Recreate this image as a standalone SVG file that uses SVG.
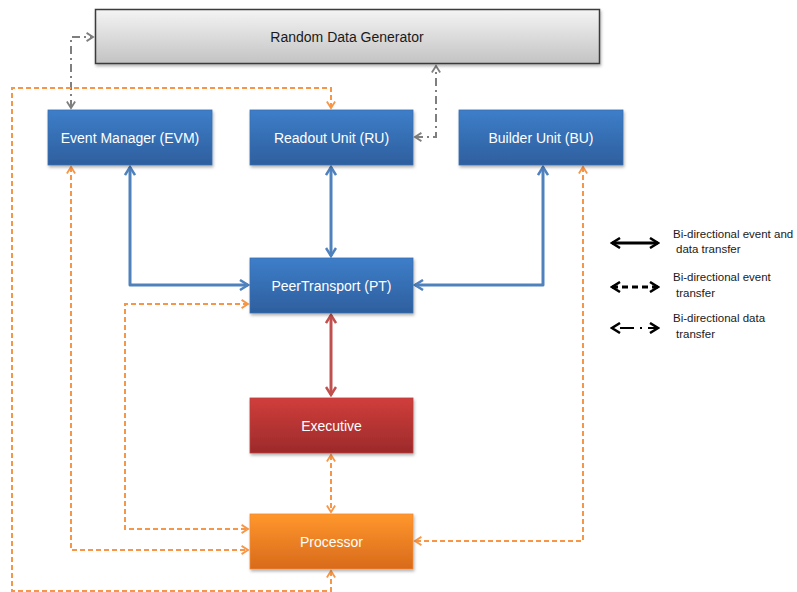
<svg xmlns="http://www.w3.org/2000/svg" width="797" height="592" viewBox="0 0 797 592">
  <style>
    .lbl { font-family: "Liberation Sans", Arial, sans-serif; font-size: 14px; text-anchor: middle; dominant-baseline: central; }
    .white { fill: #ffffff; }
    .dark { fill: #1a1a1a; }
    .leg { font-family: "Liberation Sans", Arial, sans-serif; font-size: 11.5px; fill: #1a1a1a; }
    .blue { fill: none; stroke: #4f81bd; stroke-width: 3; stroke-linejoin: round; }
    .red { fill: none; stroke: #c0504d; stroke-width: 3; }
    .orange { fill: none; stroke: #f79646; stroke-width: 2; stroke-dasharray: 5 3; }
    .gray { fill: none; stroke: #7f7f7f; stroke-width: 2; stroke-dasharray: 8 4 2 4; }
    .ls { fill: none; stroke: #000; stroke-width: 3; }
    .ld { fill: none; stroke: #000; stroke-width: 3; stroke-dasharray: 6 4; }
    .ldd { fill: none; stroke: #000; stroke-width: 2; stroke-dasharray: 2 6 14 6; }
  </style>
  <defs>
    <linearGradient id="gBlue" x1="0" y1="0" x2="0" y2="1">
      <stop offset="0" stop-color="#3d7ec9"/>
      <stop offset="1" stop-color="#2e5f9e"/>
    </linearGradient>
    <linearGradient id="gRed" x1="0" y1="0" x2="0" y2="1">
      <stop offset="0" stop-color="#d03e3b"/>
      <stop offset="1" stop-color="#9c2a2b"/>
    </linearGradient>
    <linearGradient id="gOrange" x1="0" y1="0" x2="0" y2="1">
      <stop offset="0" stop-color="#ff972c"/>
      <stop offset="1" stop-color="#d86a1b"/>
    </linearGradient>
    <linearGradient id="gGray" x1="0" y1="0" x2="0" y2="1">
      <stop offset="0" stop-color="#f4f4f4"/>
      <stop offset="1" stop-color="#c3c3c3"/>
    </linearGradient>
    <filter id="shadow" x="-10%" y="-20%" width="120%" height="150%">
      <feDropShadow dx="1" dy="2" stdDeviation="1.5" flood-color="#000" flood-opacity="0.3"/>
    </filter>
    <marker id="aBlue" viewBox="0 0 12 12" refX="10" refY="6" markerWidth="12" markerHeight="12" markerUnits="userSpaceOnUse" orient="auto-start-reverse">
      <path d="M2,1 L10,6 L2,11" fill="none" stroke="#4f81bd" stroke-width="2.5"/>
    </marker>
    <marker id="aRed" viewBox="0 0 12 12" refX="10" refY="6" markerWidth="12" markerHeight="12" markerUnits="userSpaceOnUse" orient="auto-start-reverse">
      <path d="M2,1 L10,6 L2,11" fill="none" stroke="#c0504d" stroke-width="2.5"/>
    </marker>
    <marker id="aOrange" viewBox="0 0 12 12" refX="10" refY="6" markerWidth="11" markerHeight="11" markerUnits="userSpaceOnUse" orient="auto-start-reverse">
      <path d="M3,1.5 L10,6 L3,10.5" fill="none" stroke="#f79646" stroke-width="2"/>
    </marker>
    <marker id="aGray" viewBox="0 0 12 12" refX="10" refY="6" markerWidth="11" markerHeight="11" markerUnits="userSpaceOnUse" orient="auto-start-reverse">
      <path d="M3,1.5 L10,6 L3,10.5" fill="none" stroke="#7f7f7f" stroke-width="2"/>
    </marker>
    <marker id="aBlack" viewBox="0 0 12 12" refX="10" refY="6" markerWidth="12" markerHeight="12" markerUnits="userSpaceOnUse" orient="auto-start-reverse">
      <path d="M2,1 L10,6 L2,11" fill="none" stroke="#000" stroke-width="2.5"/>
    </marker>
  </defs>

  <rect width="797" height="592" fill="#ffffff"/>

  <!-- connectors -->
  <g id="connectors">
    <!-- data links to the generator -->
    <path class="gray" d="M71,108 V37 H93" marker-start="url(#aGray)" marker-end="url(#aGray)"/>
    <path class="gray" d="M415,137 H436 V66" marker-start="url(#aGray)" marker-end="url(#aGray)"/>
    <!-- event links -->
    <path class="orange" d="M331,108 V88 H12 V591 H331 V571" marker-start="url(#aOrange)" marker-end="url(#aOrange)"/>
    <path class="orange" d="M71,167 V550 H248" marker-start="url(#aOrange)" marker-end="url(#aOrange)"/>
    <path class="orange" d="M248,304 H125 V529 H248" marker-start="url(#aOrange)" marker-end="url(#aOrange)"/>
    <path class="orange" d="M331,455 V512" marker-start="url(#aOrange)" marker-end="url(#aOrange)"/>
    <path class="orange" d="M583,167 V541 H415" marker-start="url(#aOrange)" marker-end="url(#aOrange)"/>
    <!-- event and data links -->
    <path class="blue" d="M130,167 V285 H248" marker-start="url(#aBlue)" marker-end="url(#aBlue)"/>
    <path class="blue" d="M331,167 V256" marker-start="url(#aBlue)" marker-end="url(#aBlue)"/>
    <path class="blue" d="M543,167 V285 H415" marker-start="url(#aBlue)" marker-end="url(#aBlue)"/>
    <path class="red" d="M331,315 V395" marker-start="url(#aRed)" marker-end="url(#aRed)"/>
  </g>

  <!-- nodes -->
  <g id="rdg">
    <rect x="95.5" y="9.5" width="504" height="54" fill="url(#gGray)" stroke="#3a3a3a" stroke-width="1.5" filter="url(#shadow)"/>
    <text class="lbl dark" x="347" y="37">Random Data Generator</text>
  </g>
  <g id="evm">
    <rect x="48" y="110" width="164" height="55" fill="url(#gBlue)" stroke="#3a6eb0" stroke-width="0.8" filter="url(#shadow)"/>
    <text class="lbl white" x="130" y="137.5">Event Manager (EVM)</text>
  </g>
  <g id="ru">
    <rect x="250" y="110" width="163" height="55" fill="url(#gBlue)" stroke="#3a6eb0" stroke-width="0.8" filter="url(#shadow)"/>
    <text class="lbl white" x="331.5" y="137.5">Readout Unit (RU)</text>
  </g>
  <g id="bu">
    <rect x="459" y="110" width="164" height="55" fill="url(#gBlue)" stroke="#3a6eb0" stroke-width="0.8" filter="url(#shadow)"/>
    <text class="lbl white" x="541" y="137.5">Builder Unit (BU)</text>
  </g>
  <g id="pt">
    <rect x="250" y="258" width="163" height="55" fill="url(#gBlue)" stroke="#3a6eb0" stroke-width="0.8" filter="url(#shadow)"/>
    <text class="lbl white" x="331.5" y="285.5">PeerTransport (PT)</text>
  </g>
  <g id="executive">
    <rect x="250" y="398" width="163" height="55" fill="url(#gRed)" stroke="#b8403d" stroke-width="0.8" filter="url(#shadow)"/>
    <text class="lbl white" x="331.5" y="425.5">Executive</text>
  </g>
  <g id="processor">
    <rect x="250" y="514" width="163" height="55" fill="url(#gOrange)" stroke="#f08a35" stroke-width="0.8" filter="url(#shadow)"/>
    <text class="lbl white" x="331.5" y="541.5">Processor</text>
  </g>

  <!-- legend -->
  <g id="legend">
    <path class="ls" d="M612,243 H658" marker-start="url(#aBlack)" marker-end="url(#aBlack)"/>
    <text class="leg" x="673" y="238">Bi-directional event and</text>
    <text class="leg" x="676" y="253">data transfer</text>
    <path class="ld" d="M612,287 H658" marker-start="url(#aBlack)" marker-end="url(#aBlack)"/>
    <text class="leg" x="673" y="281">Bi-directional event</text>
    <text class="leg" x="676" y="297">transfer</text>
    <path class="ldd" d="M612,328 H658" marker-start="url(#aBlack)" marker-end="url(#aBlack)"/>
    <text class="leg" x="673" y="322">Bi-directional data</text>
    <text class="leg" x="676" y="338">transfer</text>
  </g>
</svg>
